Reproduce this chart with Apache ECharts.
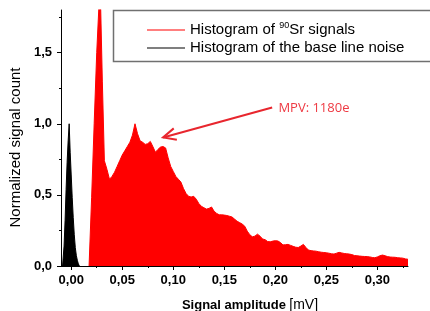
<!DOCTYPE html>
<html>
<head>
<meta charset="utf-8">
<script src="https://cdn.jsdelivr.net/npm/echarts@6/dist/echarts.min.js"></script>
<style>html,body{margin:0;padding:0;background:#fff}#c{width:430px;height:311px}</style>
</head>
<body>
<div id="c"></div>
<script>
// ---- data ----
const redName = 'Histogram of 90Sr signals';
const blackName = 'Histogram of the base line noise';
const redX = [0.0175,0.020,0.0225,0.025,0.0283,0.0305,0.0325,0.035,0.0375,0.040,0.0425,0.045,0.0475,0.050,0.0525,0.055,0.0575,0.060,0.0625,0.065,0.0675,0.070,0.0725,0.075,0.0775,0.080,0.0825,0.085,0.0875,0.090,0.0925,0.095,0.0975,0.100,0.1025,0.105,0.1075,0.110,0.1125,0.115,0.1175,0.120,0.1225,0.125,0.1275,0.130,0.1325,0.135,0.1375,0.140,0.1425,0.145,0.1475,0.150,0.1525,0.155,0.1575,0.160,0.1625,0.165,0.1675,0.170,0.1725,0.175,0.1775,0.180,0.1825,0.185,0.1875,0.190,0.1925,0.195,0.1975,0.200,0.2025,0.205,0.2075,0.210,0.2125,0.215,0.2175,0.220,0.2225,0.225,0.2275,0.230,0.2325,0.235,0.2375,0.240,0.2425,0.245,0.2475,0.250,0.2525,0.255,0.2575,0.260,0.2625,0.265,0.2675,0.270,0.2725,0.275,0.2775,0.280,0.2825,0.285,0.2875,0.290,0.2925,0.295,0.2975,0.300,0.3025,0.305,0.3075,0.310,0.3125,0.315,0.3175,0.320,0.3225,0.325,0.3275,0.330];
const redY = [0,0.48,1.0,1.5,2.0,1.3,0.74,0.68,0.61,0.63,0.66,0.70,0.74,0.78,0.81,0.84,0.87,0.92,1.0,0.93,0.88,0.87,0.855,0.86,0.876,0.84,0.80,0.82,0.836,0.84,0.83,0.76,0.70,0.665,0.63,0.61,0.59,0.545,0.51,0.49,0.485,0.49,0.47,0.44,0.42,0.41,0.40,0.405,0.415,0.385,0.37,0.36,0.36,0.358,0.355,0.35,0.345,0.33,0.315,0.305,0.295,0.28,0.245,0.22,0.205,0.21,0.224,0.21,0.19,0.185,0.172,0.17,0.175,0.178,0.176,0.165,0.148,0.15,0.152,0.145,0.138,0.132,0.13,0.14,0.152,0.13,0.112,0.108,0.106,0.104,0.10,0.097,0.095,0.093,0.09,0.086,0.084,0.09,0.096,0.092,0.088,0.086,0.084,0.08,0.074,0.072,0.07,0.068,0.067,0.066,0.064,0.06,0.058,0.064,0.072,0.077,0.072,0.066,0.063,0.062,0.061,0.058,0.057,0.055,0.05,0.047];
const blackX = [-0.0085,-0.007,-0.006,-0.005,-0.004,-0.003,-0.002,-0.001,0.000,0.001,0.002,0.003,0.004,0.005,0.006,0.007,0.008];
const blackY = [0,0.14,0.32,0.54,0.73,0.88,1.0,0.80,0.64,0.48,0.34,0.22,0.13,0.075,0.04,0.015,0];
const xTickValues = [0,0.05,0.10,0.15,0.20,0.25,0.30];
const xTickLabels = ['0,00','0,05','0,10','0,15','0,20','0,25','0,30'];
const xMinorValues = [0.025,0.075,0.125,0.175,0.225,0.275,0.325];
const yTickValues = [0,0.5,1.0,1.5];
const yTickLabels = ['0,0','0,5','1,0','1,5'];
const yMinorValues = [0.25,0.75,1.25,1.75];
const mpv = {text:'MPV: 1180e', tail:[0.1969,1.114], tip:[0.090,0.904], label:[0.203,1.107]};

const FONT = 'Liberation Sans, Arial, sans-serif';
const X_MIN = -0.01, X_MAX = 0.33, Y_MIN = 0, Y_MAX = 1.8;

function fmt(values, labels){
  return function(v){
    for (let i=0;i<values.length;i++) if (Math.abs(values[i]-v)<1e-9) return labels[i];
    return '';
  };
}

const chart = echarts.init(document.getElementById('c'), null, {renderer:'canvas'});
const option = {
  animation:false,
  grid:{left:61,right:22,top:10,bottom:45,containLabel:false,outerBoundsMode:'none'},
  legend:{
    orient:'vertical', left:142, top:16, itemGap:0,
    itemWidth:38, itemHeight:1, icon:'rect',
    data:[redName, blackName],
    formatter:function(n){ return n.replace('90Sr','{sup|90}Sr'); },
    textStyle:{fontFamily:FONT,fontSize:15,color:'#000',lineHeight:18,
      rich:{sup:{fontFamily:FONT,fontSize:9,lineHeight:9,verticalAlign:'top',color:'#000'}}}
  },
  xAxis:[{
    type:'value', min:X_MIN, max:X_MAX,
    axisLine:{show:true,onZero:false,lineStyle:{color:'#000',width:1}},
    axisTick:{show:true,inside:false,length:4,lineStyle:{color:'#000'},customValues:xTickValues},
    axisLabel:{show:true,margin:8,fontFamily:FONT,fontSize:13,fontWeight:'bold',color:'#000',
      customValues:xTickValues,formatter:fmt(xTickValues,xTickLabels)},
    splitLine:{show:false},
    name:'{b|Signal amplitude} {r|[mV]}', nameLocation:'middle', nameGap:32,
    nameTextStyle:{padding:[0,0,0,31],rich:{
      b:{fontFamily:FONT,fontSize:13,fontWeight:'bold',color:'#000'},
      r:{fontFamily:FONT,fontSize:14,color:'#000'}}}
  },{
    type:'value', min:X_MIN, max:X_MAX, position:'bottom',
    axisLine:{show:false,onZero:false},
    axisTick:{show:true,length:2,lineStyle:{color:'#000'},customValues:xMinorValues},
    axisLabel:{show:false}, splitLine:{show:false}
  }],
  yAxis:[{
    type:'value', min:Y_MIN, max:Y_MAX,
    axisLine:{show:true,onZero:false,lineStyle:{color:'#000',width:1}},
    axisTick:{show:true,length:4,lineStyle:{color:'#000'},customValues:yTickValues},
    axisLabel:{show:true,margin:9,fontFamily:FONT,fontSize:13,fontWeight:'bold',color:'#000',
      customValues:yTickValues,formatter:fmt(yTickValues,yTickLabels)},
    splitLine:{show:false},
    name:'Normalized signal count', nameLocation:'middle', nameGap:36,
    nameTextStyle:{fontFamily:FONT,fontSize:15,color:'#000',padding:[0,19,0,0]}
  },{
    type:'value', min:Y_MIN, max:Y_MAX, position:'left',
    axisLine:{show:false,onZero:false},
    axisTick:{show:true,length:2,lineStyle:{color:'#000'},customValues:yMinorValues},
    axisLabel:{show:false}, splitLine:{show:false}
  }],
  series:[{
    name:redName, type:'line', xAxisIndex:0, yAxisIndex:0, symbol:'none', clip:true,
    data:redX.map((x,i)=>[x,redY[i]]),
    lineStyle:{color:'#ff0000',width:1}, itemStyle:{color:'#ff0000'},
    areaStyle:{color:'#ff0000',opacity:1}
  },{
    name:blackName, type:'line', xAxisIndex:0, yAxisIndex:0, symbol:'none', clip:true,
    data:blackX.map((x,i)=>[x,blackY[i]]),
    lineStyle:{color:'#000',width:1}, itemStyle:{color:'#000'},
    areaStyle:{color:'#000',opacity:1}
  }]
};
chart.setOption(option);

const P = v => chart.convertToPixel({seriesIndex:0}, v);
const tail = P(mpv.tail), tip = P(mpv.tip), lab = P(mpv.label);
const dx = tail[0]-tip[0], dy = tail[1]-tip[1], L = Math.hypot(dx,dy);
const ux = dx/L, uy = dy/L, ang = 25*Math.PI/180, hl = 14;
function rot(a){ return [tip[0]+hl*(ux*Math.cos(a)-uy*Math.sin(a)), tip[1]+hl*(ux*Math.sin(a)+uy*Math.cos(a))]; }
chart.setOption({graphic:[
  {type:'rect',shape:{x:113.5,y:10.5,width:340,height:51},style:{fill:'none',stroke:'#707070',lineWidth:1.5},z:10},
  {type:'polyline',shape:{points:[tail,tip]},style:{stroke:'#e8262e',lineWidth:2,fill:'none'},z:10},
  {type:'polyline',shape:{points:[rot(-ang),tip,rot(ang)]},style:{stroke:'#e8262e',lineWidth:2,fill:'none'},z:10},
  {type:'text',x:lab[0],y:lab[1],style:{text:mpv.text,fill:'#ee3a43',font:'13px "Open Sans", sans-serif',textAlign:'left',textVerticalAlign:'middle'},z:10}
]});
</script>
</body>
</html>
